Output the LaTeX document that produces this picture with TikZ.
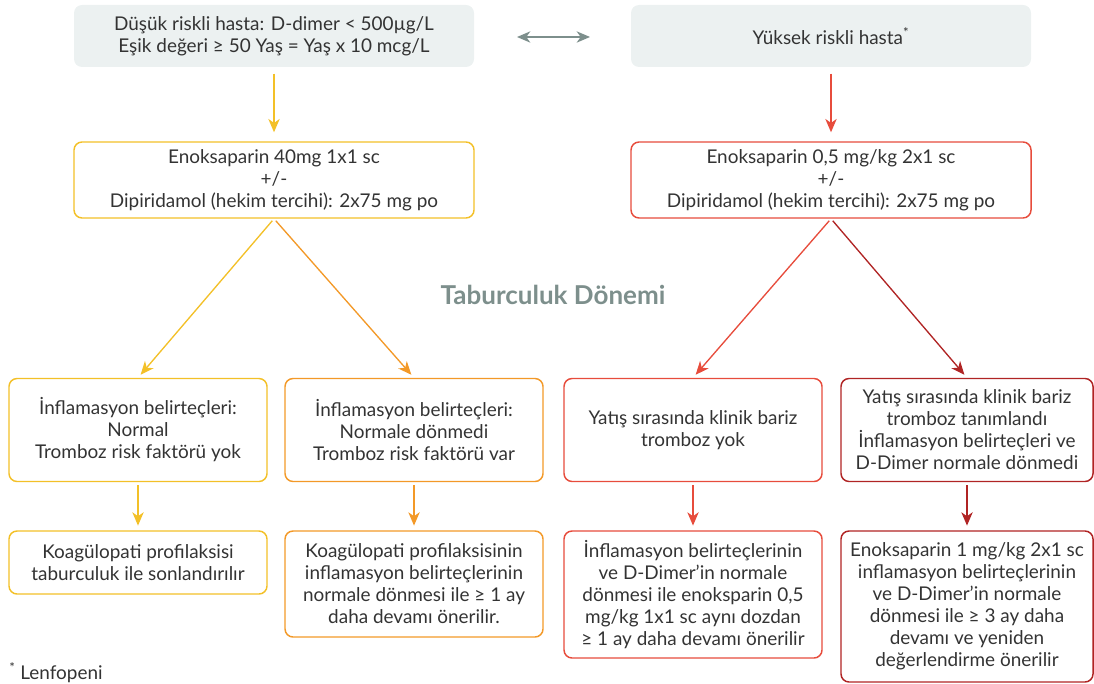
\documentclass[tikz,border=0pt]{standalone}
\usepackage{fontspec}
\setmainfont{Lato}
\usetikzlibrary{arrows.meta}
\definecolor{cyel}{RGB}{243,192,40}
\definecolor{cora}{RGB}{243,153,40}
\definecolor{cred}{RGB}{231,76,60}
\definecolor{cdred}{RGB}{176,36,36}
\definecolor{cgfill}{RGB}{236,241,241}
\definecolor{cgray}{RGB}{125,143,140}
\definecolor{ctxt}{RGB}{51,51,51}
\tikzset{
  base/.style={rounded corners=6pt, line width=1.1pt, align=center, text=ctxt,
    font=\fontsize{14.2}{16.5}\selectfont, inner sep=0pt},
  gbox/.style={base, fill=cgfill, draw=none, minimum width=300pt, minimum height=46.5pt},
  ybox/.style={base, draw=cyel},
  obox/.style={base, draw=cora},
  rbox/.style={base, draw=cred},
  dbox/.style={base, draw=cdred},
  wbig/.style={minimum width=300pt, minimum height=57pt},
  w3/.style={minimum width=193.5pt, minimum height=77.25pt},
  w3d/.style={minimum width=189pt, minimum height=77.25pt},
  arr/.style={line width=1.1pt, -{Stealth[length=10pt,width=8.5pt,inset=3pt]}},
  darr/.style={line width=1pt, -{Stealth[length=10pt,width=8.5pt,inset=3pt]}},
  titlestyle/.style={font=\fontsize{19.5}{22}\selectfont\bfseries, text=cgray},
  notestyle/.style={font=\fontsize{14.2}{16.5}\selectfont, text=ctxt, inner sep=0pt}
}
\begin{document}
\begin{tikzpicture}[x=0.75pt,y=-0.75pt]
\useasboundingbox (0,0) rectangle (1094,684);
% top row
\node[gbox] (tl) at (274,36) {Düşük riskli hasta: D-dimer < 500µg/L\\Eşik değeri ≥ 50 Yaş = Yaş x 10 mcg/L};
\node[gbox] (tr) at (831,36) {Yüksek riskli hasta\textsuperscript{*}};
\coordinate (da1) at (517,37);
\coordinate (da2) at (590,37);
\draw[line width=1.1pt, cgray, {Stealth[length=10pt,width=8.5pt,inset=3pt]}-{Stealth[length=10pt,width=8.5pt,inset=3pt]}] (da1) -- (da2);
% second row
\node[ybox, wbig] (yl) at (274,180) {Enoksaparin 40mg 1x1 sc\\+/-\\Dipiridamol (hekim tercihi): 2x75 mg po};
\node[rbox, wbig] (rl) at (831,180) {Enoksaparin 0,5 mg/kg 2x1 sc\\+/-\\Dipiridamol (hekim tercihi): 2x75 mg po};
\draw[arr, cyel, shorten <=4.5pt, shorten >=6.75pt] (tl) -- (yl);
\draw[arr, cred, shorten <=4.5pt, shorten >=6.75pt] (tr) -- (rl);
% title
\node[titlestyle] (tit) at (553,295) {Taburculuk Dönemi};
% third row
\node[ybox, w3] (a3) at (138,430) {İnflamasyon belirteçleri:\\Normal\\Tromboz risk faktörü yok};
\node[obox, w3] (b3) at (414,430) {İnflamasyon belirteçleri:\\Normale dönmedi\\Tromboz risk faktörü var};
\node[rbox, w3] (c3) at (693,430) {Yatış sırasında klinik bariz\\tromboz yok};
\node[dbox, w3d] (d3) at (967,430) {Yatış sırasında klinik bariz\\tromboz tanımlandı\\İnflamasyon belirteçleri ve\\D-Dimer normale dönmedi};
\draw[darr, cyel, shorten <=2pt, shorten >=3pt] (yl.south) -- (a3.north);
\draw[darr, cora, shorten <=2pt, shorten >=3pt] (yl.south) -- (b3.north);
\draw[darr, cred, shorten <=2pt, shorten >=3pt] (rl.south) -- (c3.north);
\draw[darr, cdred, shorten <=2pt, shorten >=3pt] (rl.south) -- (d3.north);
% fourth row
\node[ybox, minimum width=193.5pt, minimum height=47.25pt] (a4) at (138,562.5) {Koagülopati profilaksisi\\taburculuk ile sonlandırılır};
\node[obox, minimum width=193.5pt, minimum height=79.5pt] (b4) at (414,584) {Koagülopati profilaksisinin\\inflamasyon belirteçlerinin\\normale dönmesi ile ≥ 1 ay\\daha devamı önerilir.};
\node[rbox, minimum width=193.5pt, minimum height=95.25pt] (c4) at (693,594.5) {İnflamasyon belirteçlerinin\\ve D-Dimer’in normale\\dönmesi ile enoksparin 0,5\\mg/kg 1x1 sc aynı dozdan\\≥ 1 ay daha devamı önerilir};
\node[dbox, minimum width=189pt, minimum height=113.25pt] (d4) at (967,606.5) {Enoksaparin 1 mg/kg 2x1 sc\\inflamasyon belirteçlerinin\\ve D-Dimer’in normale\\dönmesi ile ≥ 3 ay daha\\devamı ve yeniden\\değerlendirme önerilir};
\draw[arr, cyel, shorten <=2.25pt, shorten >=3.5pt] (a3) -- (a4);
\draw[arr, cora, shorten <=2.25pt, shorten >=3.5pt] (b3) -- (b4);
\draw[arr, cred, shorten <=2.25pt, shorten >=3.5pt] (c3) -- (c4);
\draw[arr, cdred, shorten <=2.25pt, shorten >=3.5pt] (d3) -- (d4);
% footnote
\node[notestyle, anchor=west] (note) at (9,673) {\textsuperscript{*} Lenfopeni};
\end{tikzpicture}
\end{document}
